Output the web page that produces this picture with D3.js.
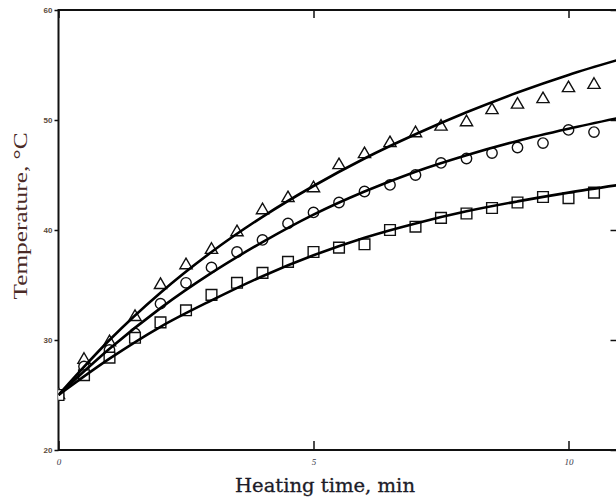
<!DOCTYPE html>
<html>
<head>
<meta charset="utf-8">
<script src="https://cdn.jsdelivr.net/npm/d3@7"></script>
<style>
  html, body { margin: 0; padding: 0; background: #fff; }
  svg { display: block; }
</style>
</head>
<body>
<svg id="chart" width="616" height="497"></svg>
<script>
// Measured temperatures, sampled every half minute
const sampleTimes = [0, 0.5, 1, 1.5, 2, 2.5, 3, 3.5, 4, 4.5, 5, 5.5, 6, 6.5, 7, 7.5, 8, 8.5, 9, 9.5, 10, 10.5];
const triangleTemps = [25, 28.2, 29.8, 32.1, 35.0, 36.8, 38.2, 39.8, 41.8, 42.9, 43.8, 45.9, 46.9, 47.9, 48.8, 49.4, 49.8, 50.9, 51.4, 51.9, 52.9, 53.2];
const circleTemps   = [25, 27.6, 29.1, 30.6, 33.3, 35.2, 36.6, 38.0, 39.1, 40.6, 41.6, 42.5, 43.5, 44.1, 45.0, 46.1, 46.5, 47.0, 47.5, 47.9, 49.1, 48.9];
const squareTemps   = [25, 26.8, 28.4, 30.2, 31.6, 32.7, 34.1, 35.2, 36.1, 37.1, 38.0, 38.4, 38.7, 40.0, 40.3, 41.1, 41.5, 42.0, 42.5, 43.0, 42.9, 43.4];

// Model curves, read at whole minutes
const curveTimes = [0, 1, 2, 3, 4, 5, 6, 7, 8, 9, 10, 11];
const triangleCurve = [25, 30.0, 34.3, 38.0, 41.2, 44.0, 46.5, 48.7, 50.7, 52.5, 54.1, 55.5];
const circleCurve   = [25, 29.2, 32.9, 36.1, 38.9, 41.4, 43.5, 45.3, 46.8, 48.1, 49.2, 50.2];
const squareCurve   = [25, 28.3, 31.2, 33.6, 35.8, 37.7, 39.3, 40.6, 41.7, 42.6, 43.4, 44.1];

const xTicks = [0, 5, 10];
const yTicks = [20, 30, 40, 50, 60];

const svg = d3.select("#chart");
const x = d3.scaleLinear().domain([0, 11]).range([58.5, 619.5]);
const y = d3.scaleLinear().domain([20, 60]).range([450, 10]);

// Frame
svg.append("rect")
  .attr("x", x(0)).attr("y", y(60))
  .attr("width", x(11) - x(0)).attr("height", y(20) - y(60))
  .attr("fill", "none").attr("stroke", "#111").attr("stroke-width", 2);

// Left axis: outward ticks with labels
const leftAxis = svg.append("g")
  .attr("transform", `translate(${x(0)},0)`)
  .call(d3.axisLeft(y).tickValues(yTicks).tickSize(4).tickPadding(2).tickFormat(d3.format("d")));
leftAxis.select(".domain").remove();
leftAxis.selectAll("line").attr("stroke", "#111").attr("stroke-width", 1.5);
leftAxis.selectAll("text")
  .attr("font-family", "Liberation Sans, Arial, sans-serif")
  .attr("font-size", 8).attr("font-weight", "bold").attr("fill", "#5a4a3a");

// Right axis: inward ticks
const rightAxis = svg.append("g")
  .attr("transform", `translate(${x(11)},0)`)
  .call(d3.axisRight(y).tickValues(yTicks).tickSize(-9).tickFormat(""));
rightAxis.select(".domain").remove();
rightAxis.selectAll("line").attr("stroke", "#111").attr("stroke-width", 1.5);

// Bottom axis: inward ticks with labels below
const bottomAxis = svg.append("g")
  .attr("transform", `translate(0,${y(20)})`)
  .call(d3.axisBottom(x).tickValues(xTicks).tickSize(-9).tickPadding(9).tickFormat(d3.format("d")));
bottomAxis.select(".domain").remove();
bottomAxis.selectAll("line").attr("stroke", "#111").attr("stroke-width", 1.5);
bottomAxis.selectAll("text")
  .attr("font-family", "Liberation Serif, Times New Roman, serif")
  .attr("font-style", "italic")
  .attr("font-size", 9).attr("fill", "#3a3a4a");

// Top axis: inward ticks
const topAxis = svg.append("g")
  .attr("transform", `translate(0,${y(60)})`)
  .call(d3.axisTop(x).tickValues(xTicks).tickSize(-8).tickFormat(""));
topAxis.select(".domain").remove();
topAxis.selectAll("line").attr("stroke", "#111").attr("stroke-width", 1.5);

// Axis titles
svg.append("text")
  .attr("x", 325).attr("y", 492)
  .attr("text-anchor", "middle")
  .attr("font-family", "DejaVu Serif, serif")
  .attr("font-size", 18)
  .attr("stroke", "#1c1c28")
  .attr("stroke-width", 0.3)
  .attr("textLength", 180)
  .attr("lengthAdjust", "spacingAndGlyphs")
  .attr("fill", "#1c1c28")
  .text("Heating time, min");

svg.append("text")
  .attr("transform", "translate(27,216) rotate(-90)")
  .attr("text-anchor", "middle")
  .attr("font-family", "Liberation Serif, Times New Roman, serif")
  .attr("font-size", 19)
  .attr("textLength", 167)
  .attr("lengthAdjust", "spacingAndGlyphs")
  .attr("fill", "#4a2a26")
  .text("Temperature, °C");

// Plot area clip
svg.append("clipPath").attr("id", "plot-clip")
  .append("rect").attr("x", x(0)).attr("y", y(60))
  .attr("width", x(11) - x(0)).attr("height", y(20) - y(60));

const plot = svg.append("g").attr("clip-path", "url(#plot-clip)");

// Markers
const markerSeries = [
  { temps: triangleTemps, shape: d3.symbolTriangle, size: 65 },
  { temps: circleTemps,   shape: d3.symbolCircle,   size: 85 },
  { temps: squareTemps,   shape: d3.symbolSquare,   size: 115 }
];
markerSeries.forEach(s => {
  const sym = d3.symbol().type(s.shape).size(s.size);
  plot.append("g")
    .selectAll("path")
    .data(sampleTimes.map((t, i) => [t, s.temps[i]]))
    .join("path")
    .attr("transform", d => `translate(${x(d[0])},${y(d[1])})`)
    .attr("d", sym)
    .attr("fill", "#fff")
    .attr("stroke", "#111")
    .attr("stroke-width", 1.4);
});

// Model curves
const line = d3.line()
  .x((d, i) => x(curveTimes[i]))
  .y(d => y(d))
  .curve(d3.curveMonotoneX);
[triangleCurve, circleCurve, squareCurve].forEach(c => {
  plot.append("path")
    .attr("d", line(c))
    .attr("fill", "none")
    .attr("stroke", "#000")
    .attr("stroke-width", 2.6);
});
</script>
</body>
</html>
